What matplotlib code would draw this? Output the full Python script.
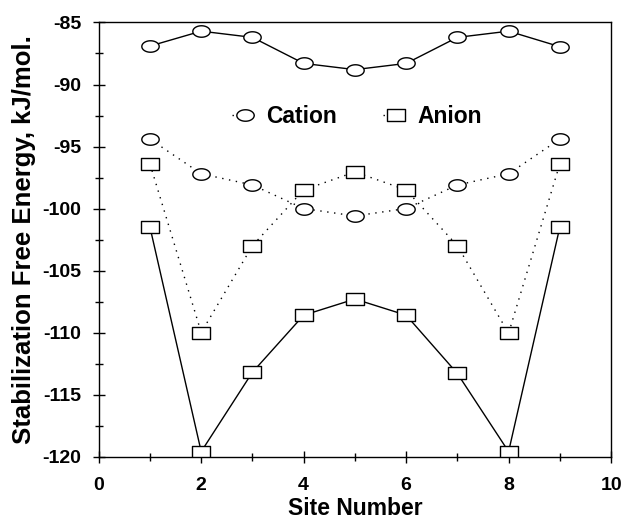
import numpy as np
import matplotlib
matplotlib.use("Agg")
import matplotlib.pyplot as plt
from matplotlib.path import Path
from matplotlib.ticker import MultipleLocator

plt.rcParams['font.family'] = ['Liberation Sans', 'DejaVu Sans']
plt.rcParams['font.weight'] = 'bold'
plt.rcParams['axes.unicode_minus'] = False

sites = [1, 2, 3, 4, 5, 6, 7, 8, 9]
cation_solid = [-86.9, -85.7, -86.2, -88.3, -88.8, -88.3, -86.2, -85.7, -86.95]
cation_dotted = [-94.4, -97.2, -98.1, -100.0, -100.6, -100.0, -98.1, -97.2, -94.4]
anion_dotted = [-96.4, -110.0, -103.0, -98.5, -97.05, -98.5, -103.0, -110.05, -96.4]
anion_solid = [-101.5, -119.6, -113.2, -108.6, -107.3, -108.6, -113.3, -119.6, -101.5]

# wide ellipse and wide rectangle markers
t = np.linspace(0, 2 * np.pi, 60)
ellipse = Path(np.column_stack([np.cos(t), 0.66 * np.sin(t)]), closed=True)
rect = Path([(-1, -0.66), (1, -0.66), (1, 0.66), (-1, 0.66), (-1, -0.66)], closed=True)

fig = plt.figure(figsize=(6.21, 5.23), dpi=100)
ax = fig.add_axes([0.159, 0.127, 0.825, 0.83])

dot = (0, (1, 4))
mk = dict(markersize=12.5, markerfacecolor='white', markeredgecolor='black',
          markeredgewidth=1.0, color='black', linewidth=1.0)

ax.plot(sites, cation_solid, marker=ellipse, linestyle='-', **mk)
c_line, = ax.plot(sites, cation_dotted, marker=ellipse, linestyle=dot, **mk)
a_line, = ax.plot(sites, anion_dotted, marker=rect, linestyle=dot, **mk)
ax.plot(sites, anion_solid, marker=rect, linestyle='-', **mk)

ax.set_xlim(0, 10)
ax.set_ylim(-120, -85)
ax.xaxis.set_major_locator(MultipleLocator(2))
ax.xaxis.set_minor_locator(MultipleLocator(1))
ax.yaxis.set_major_locator(MultipleLocator(5))
ax.yaxis.set_minor_locator(MultipleLocator(2.5))
ax.tick_params(which='major', direction='inout', length=9, width=1.0,
               labelsize=14)
ax.tick_params(which='minor', direction='inout', length=6, width=1.0)
ax.tick_params(axis='x', which='major', pad=10)
ax.tick_params(axis='y', which='major', pad=8)
for lab in ax.get_xticklabels() + ax.get_yticklabels():
    lab.set_fontweight('bold')
for s in ax.spines.values():
    s.set_linewidth(1.0)

ax.set_xlabel('Site Number', fontsize=16.5, fontweight='bold')
ax.set_ylabel('Stabilization Free Energy, kJ/mol.', fontsize=18.5,
              fontweight='bold')
ax.xaxis.set_label_coords(0.5, -0.093)
ax.yaxis.set_label_coords(-0.122, 0.5)

leg = ax.legend([c_line, a_line], ['Cation', 'Anion'], ncol=2, frameon=False,
                loc='center', bbox_to_anchor=(0.504, 0.784), handlelength=1.1,
                handletextpad=0.4, columnspacing=2.0,
                prop={'size': 16.5, 'weight': 'bold'})

fig.savefig('out.png', dpi=100)
